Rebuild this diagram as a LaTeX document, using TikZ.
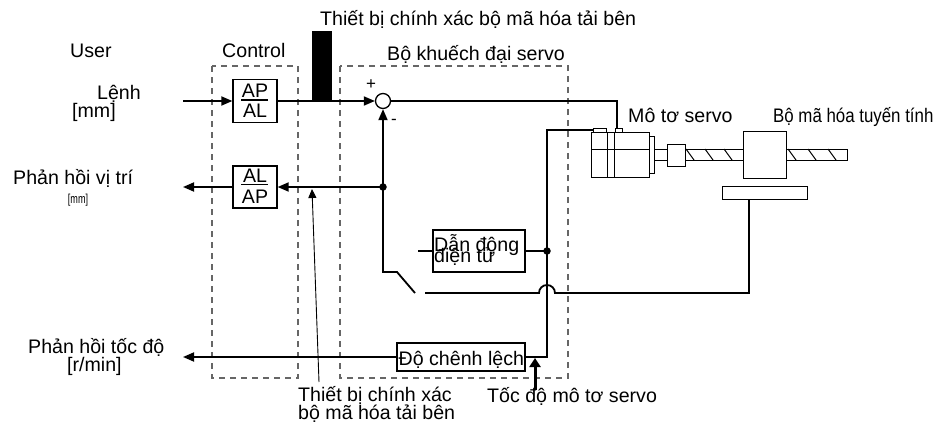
\documentclass[tikz,border=0pt]{standalone}
\usepackage{fontspec}
\setmainfont{Liberation Sans}
\usetikzlibrary{arrows.meta}
\begin{document}
\begin{tikzpicture}[x=1pt,y=-1pt,
  wire/.style={line width=1.8pt},
  fine/.style={line width=1pt},
  frame/.style={draw=black!60, line width=1.2pt, dash pattern=on 6pt off 5pt},
  blk/.style={draw, line width=1.3pt, inner sep=0pt},
  lbl/.style={inner sep=0pt, anchor=base west, font=\fontsize{19.6}{21}\selectfont},
  ctr/.style={inner sep=0pt, anchor=base, font=\fontsize{19.6}{21}\selectfont},
  tip/.style={-{Triangle[length=11pt,width=9pt]}},
  jdot/.style={circle, fill, inner sep=0pt, minimum size=7.5pt},
]
\useasboundingbox (0,0) rectangle (935,423);

% dashed groupings
\draw[frame] (212,66) rectangle (298,378);
\draw[frame] (340,66) rectangle (568,378);

% headings
\node[lbl] (user) at (70,57) {User};
\node[lbl] (ctrl) at (222,57) {Control};
\node[lbl] (amp) at (387,60) {Bộ khuếch đại servo};
\node[lbl] (enctop) at (320,25) {Thiết bị chính xác bộ mã hóa tải bên};

% left side labels
\node[lbl] (cmd) at (97,99) {Lệnh};
\node[lbl] (cmdunit) at (72,117) {[mm]};
\node[lbl] (posfb) at (13,184) {Phản hồi vị trí};
\node[inner sep=0pt] (posunit) at (78,200) {\scalebox{0.7}[1]{\fontsize{13}{13}\selectfont[mm]}};
\node[lbl] (spdfb) at (28,353) {Phản hồi tốc độ};
\node[lbl] (spdunit) at (67,371) {[r/min]};

% bottom labels
\node[lbl] (encbot1) at (298,401) {Thiết bị chính xác};
\node[lbl] (encbot2) at (298,419) {bộ mã hóa tải bên};
\node[lbl] (motspd) at (487,402) {Tốc độ mô tơ servo};

% mechanics labels
\node[lbl] (motlbl) at (628,122) {Mô tơ servo};
\node[lbl] (linlbl) at (773,122) {\scalebox{0.86}[1]{Bộ mã hóa tuyến tính}};

% electronic gear boxes
\node[blk, minimum width=44pt, minimum height=43pt] (g1) at (255,101) {};
\node[ctr] (g1n) at (255,97.5) {AP};
\draw[line width=1.3pt] (241,100) -- (268,100);
\node[ctr] (g1d) at (255,117.5) {AL};

\node[blk, minimum width=44pt, minimum height=42pt] (g2) at (255,187) {};
\node[ctr] (g2n) at (255,182) {AL};
\draw[line width=1.3pt] (241,184.5) -- (268,184.5);
\node[ctr] (g2d) at (255,203) {AP};

% summing point
\node[circle, draw, line width=1.3pt, minimum size=15pt, inner sep=0pt] (sum) at (383,101) {};
\node[inner sep=0pt, font=\fontsize{17}{17}\selectfont] (plus) at (371,85) {+};
\node[inner sep=0pt, font=\fontsize{17}{17}\selectfont] (minus) at (394,122) {-};

% amplifier blocks
\node[blk, minimum width=92pt, minimum height=42pt] (drv) at (479,251) {};
\node[lbl] (drv1) at (434,251.5) {Dẫn động};
\node[lbl] (drv2) at (434,262.5) {điện tử};
\node[blk, minimum width=128pt, minimum height=28pt] (diff) at (461,357) {};
\node[lbl] (difft) at (398.5,365) {Độ chênh lệch};

% load-side encoder bar
\fill (312,31) rectangle (332,101);

% servo motor
\draw[fine] (591,132) rectangle (649,177);
\draw[fine] (607,132) -- (607,177) (614,132) -- (614,177) (591,149) -- (649,149);
\draw[fine] (593,128) rectangle (606,132);
\draw[fine] (615,128) rectangle (622,132);
\draw[fine] (649,136) rectangle (654,173);
\draw[fine] (654,149) -- (667,149) (654,160) -- (667,160);
\draw[fine] (667,144) rectangle (685,166);
% ball screw
\draw[fine] (685,149) -- (743,149) (685,160) -- (743,160);
\draw[fine] (786,149) -- (847,149) -- (847,160) -- (786,160);
\foreach \h in {686,705,724,788,808,828}
  \draw[fine] (\h,149) -- (\h+8,160);
% linear encoder head and scale
\draw[fine] (743,131) rectangle (786,178);
\node[draw, line width=1pt, inner sep=0pt, minimum width=85pt, minimum height=13pt] (scale) at (764.5,192.5) {};

% coordinates of free ends
\coordinate (cmdin) at (183,101);
\coordinate (posout) at (183,187);
\coordinate (spdout) at (183,357);
\coordinate (mtrA) at (617,128);
\coordinate (mtrB) at (593,130);
\node[jdot] (fbdot) at (383,187) {};
\node[jdot] (drvdot) at (547,251) {};
\coordinate (swa) at (383,272);
\coordinate (swb) at (397,272);
\coordinate (swc) at (415,293);
\coordinate (swd) at (425,293);

% signal paths
\draw[wire, tip] (cmdin) -- (g1.west);
\draw[wire, tip] (g1.east) -- (sum.west);
\draw[wire] (sum.east) -- (617,101) -- (mtrA);
\draw[wire, tip] (fbdot.center) -- (sum.south);
\draw[wire, tip] (fbdot.center) -- (g2.east);
\draw[wire, tip] (g2.west) -- (posout);
\draw[wire] (fbdot.center) -- (swa) -- (swb) -- (swc);
\draw[wire] (swd) -- (539,293) arc[start angle=180, end angle=0, radius=8pt]
  -- (749,293) -- (scale.south -| 749,0);
\draw[wire] (diff.east) -- (547,357) -- (547,130) -- (mtrB);
\draw[wire] (drv.east) -- (drvdot.center);
\draw[wire] (418,251) -- (drv.west);
\draw[wire, tip] (diff.west) -- (spdout);

% pointer arrows
\draw[line width=3pt, -{Triangle[length=9pt,width=11pt]}] (535,390) -- (535,358);
\draw[line width=0.9pt, -{Triangle[length=9pt,width=8pt]}] (319,382) -- (312,189);
\end{tikzpicture}
\end{document}
